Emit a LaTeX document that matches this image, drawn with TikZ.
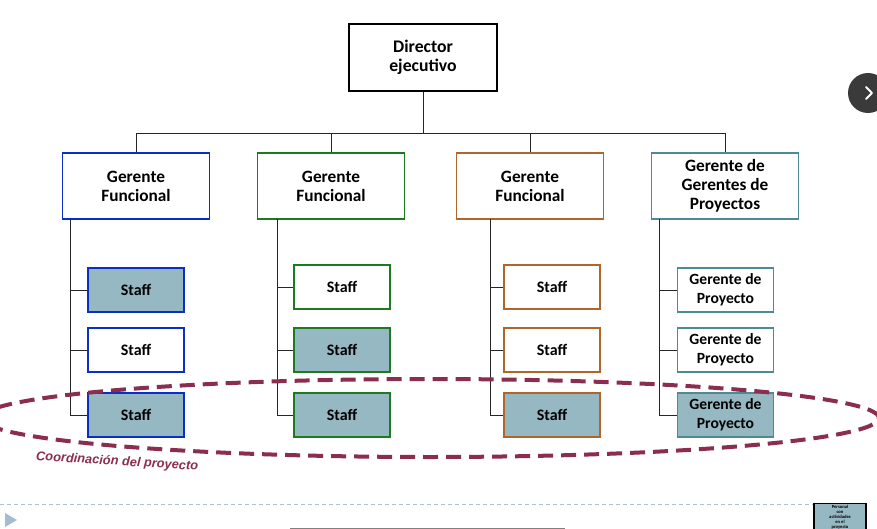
\documentclass[tikz,border=0pt]{standalone}
\usepackage{fontspec}
\setmainfont{Carlito}
\newfontfamily\arialf{Liberation Sans}
\usetikzlibrary{positioning}
\definecolor{bluebd}{HTML}{0A2FC8}
\definecolor{greenbd}{HTML}{1E7A1E}
\definecolor{brownbd}{HTML}{B0662A}
\definecolor{tealbd}{HTML}{4E8A94}
\definecolor{fillc}{HTML}{95B8C2}
\definecolor{maroon}{HTML}{8A2D4E}
\definecolor{lightblue}{HTML}{A8C2DC}
\definecolor{darkcirc}{HTML}{3A3A3A}
\tikzset{
  x=1pt, y=-1pt,
  mgr/.style={draw, line width=1.6pt, minimum width=147pt, minimum height=66pt, align=center, font=\fontsize{17.3}{19}\selectfont\bfseries, fill=white, inner sep=1pt},
  staffbox/.style={draw, line width=1.4pt, minimum width=96pt, minimum height=44pt, align=center, font=\fontsize{16}{19}\selectfont\bfseries, fill=white, inner sep=1pt},
  pmbox/.style={staffbox, font=\fontsize{15.6}{19}\selectfont\bfseries},
  shaded/.style={fill=fillc},
  conn/.style={draw=black!85, line width=0.8pt},
}
\begin{document}
\begin{tikzpicture}
\useasboundingbox (0,0) rectangle (877,529);
\clip (0,0) rectangle (877,529);

% director
\node[mgr, line width=2pt, minimum width=148pt, minimum height=67pt, font=\fontsize{17.7}{19}\selectfont\bfseries] (dir) at (423,57.5) {Director\\ejecutivo};

% managers
\node[mgr, draw=bluebd] (m1) at (136,186) {Gerente\\Funcional};
\node[mgr, draw=greenbd] (m2) at (331,186) {Gerente\\Funcional};
\node[mgr, draw=brownbd] (m3) at (530,186) {Gerente\\Funcional};
\node[mgr, draw=tealbd] (m4) at (725,186) {Gerente de\\Gerentes de\\Proyectos};

% bus
\coordinate (bus) at (423,133);
\draw[conn] (dir.south) -- (bus);
\draw[conn] (136,133) -- (726,133);
\foreach \m in {m1,m2,m3,m4} \draw[conn] (\m.north |- bus) -- (\m.north);

% column 1
\node[staffbox, draw=bluebd, shaded] (s11) at (136,290) {Staff};
\node[staffbox, draw=bluebd] (s12) at (136,350) {Staff};
\node[staffbox, draw=bluebd, shaded] (s13) at (136,415) {Staff};
% column 2
\node[staffbox, draw=greenbd] (s21) at (342,287) {Staff};
\node[staffbox, draw=greenbd, shaded] (s22) at (342,350) {Staff};
\node[staffbox, draw=greenbd, shaded] (s23) at (342,415) {Staff};
% column 3
\node[staffbox, draw=brownbd] (s31) at (552,287) {Staff};
\node[staffbox, draw=brownbd] (s32) at (552,350) {Staff};
\node[staffbox, draw=brownbd, shaded] (s33) at (552,415) {Staff};
% column 4
\node[pmbox, draw=tealbd] (s41) at (725.5,290) {Gerente de\\Proyecto};
\node[pmbox, draw=tealbd] (s42) at (725.5,350) {Gerente de\\Proyecto};
\node[pmbox, draw=tealbd, shaded] (s43) at (725.5,415) {Gerente de\\Proyecto};

% column connectors
\foreach \m/\xx/\a/\b/\c in {m1/70/s11/s12/s13, m2/277/s21/s22/s23, m3/490/s31/s32/s33, m4/659/s41/s42/s43}{
  \coordinate (top\m) at (\xx,219);
  \draw[conn] (top\m) -- (top\m |- \c.west) -- (\c.west);
  \draw[conn] (top\m |- \a.west) -- (\a.west);
  \draw[conn] (top\m |- \b.west) -- (\b.west);
}

% project coordination ellipse
\draw[maroon, line width=4pt, dash pattern=on 15pt off 8pt] (430,418) ellipse [x radius=449pt, y radius=39pt];
\node[text=maroon, font=\arialf\itshape\bfseries\fontsize{12.8}{14}\selectfont, rotate=-3.5, anchor=west, inner sep=0pt] (lbl) at (36,457) {Coordinación del proyecto};

% bottom slide elements
\coordinate (dl) at (0,504);
\coordinate (dr) at (814,504);
\draw[lightblue, line width=0.8pt, dash pattern=on 4pt off 3pt] (dl) -- (dr);
\fill[lightblue!90!gray] (5,513) -- (17,520) -- (5,527) -- cycle;
\draw[gray, line width=1.5pt] (290,528.5) -- (565,528.5);
\node[draw=black, line width=1.2pt, fill=fillc, minimum width=52pt, minimum height=34pt, anchor=north, align=center, font=\fontsize{4.6}{4.9}\selectfont\bfseries, inner sep=0.5pt, text depth=8pt] (leg) at (840,503) {Personal\\con\\actividades\\en el\\proyecto};

% navigation circle
\fill[darkcirc] (868,93) circle (20pt);
\draw[white, line width=2pt, line cap=round, line join=round] (866,87) -- (872,93) -- (866,99);
\end{tikzpicture}
\end{document}
